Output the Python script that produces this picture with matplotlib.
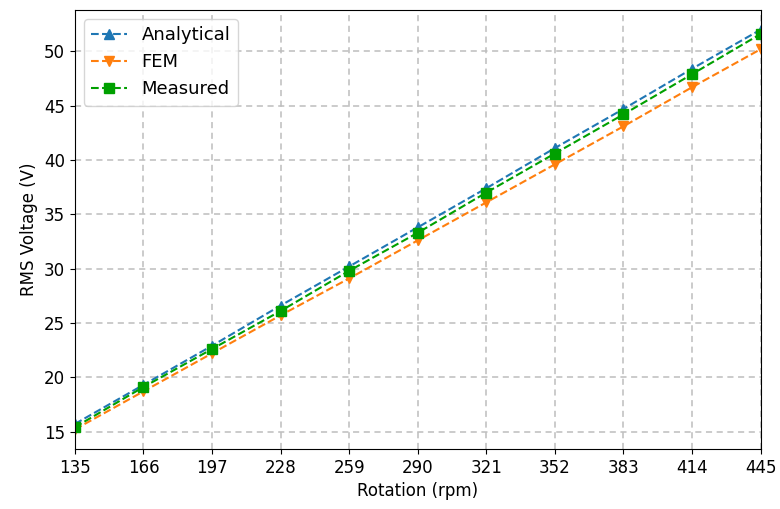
import matplotlib
matplotlib.use("Agg")
import matplotlib.pyplot as plt

rpm = [135, 166, 197, 228, 259, 290, 321, 352, 383, 414, 445]
analytical = [15.7, 19.3, 22.9, 26.6, 30.2, 33.8, 37.4, 41.1, 44.7, 48.4, 52.0]
fem = [15.2, 18.7, 22.2, 25.7, 29.1, 32.6, 36.1, 39.6, 43.1, 46.7, 50.2]
measured = [15.4, 19.1, 22.6, 26.1, 29.8, 33.3, 37.0, 40.6, 44.2, 47.9, 51.6]

fig, ax = plt.subplots(figsize=(7.8, 5.09), dpi=100)
fig.subplots_adjust(left=0.096, right=0.975, top=0.98, bottom=0.118)

ax.plot(rpm, analytical, '--^', color='tab:blue', markersize=7.5, label='Analytical')
ax.plot(rpm, fem, '--v', color='tab:orange', markersize=7.5, label='FEM')
ax.plot(rpm, measured, '--s', color='#00a000', markersize=7.5, label='Measured')

ax.set_xlim(135, 445)
ax.set_xticks(rpm)
ax.set_ylim(13.4, 53.8)
ax.grid(True, linestyle=(0, (4, 3)), color='#bdbdbd', linewidth=1.1)
ax.tick_params(labelsize=12)
ax.set_xlabel('Rotation (rpm)', fontsize=12)
ax.set_ylabel('RMS Voltage (V)', fontsize=12)
ax.legend(loc='upper left', fontsize=13)

fig.savefig('out.png')
